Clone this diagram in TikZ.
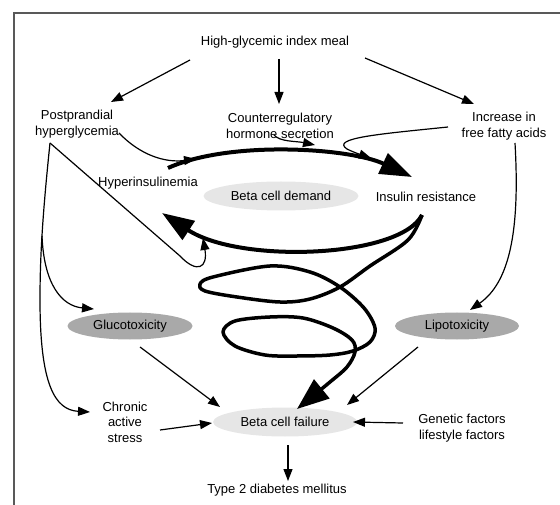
\documentclass[tikz,border=0pt]{standalone}
\usepackage{fontspec}
\setmainfont{Liberation Sans}
\usetikzlibrary{arrows.meta, shapes.geometric, calc}

\definecolor{paleblob}{HTML}{E6E6E6}
\definecolor{darkblob}{HTML}{A9A9A9}

\begin{document}
\begin{tikzpicture}[
    x=1pt, y=-1pt,
    every node/.style={font=\fontsize{13}{15.5}\selectfont, align=center},
    blob/.style={ellipse, inner sep=0pt},
    thinarr/.style={-{Triangle[length=12pt,width=9pt]}, line width=1.2pt},
    bigarr/.style={-{Triangle[length=32pt,width=22pt]}, line width=4pt},
    frame/.style={line width=1.3pt, black!65}
  ]
  \useasboundingbox (0,0) rectangle (560,505);
  \draw[frame] (14,505) -- (14,13) -- (560,13);

  % Top row
  \node (meal) at (275,42) {High-glycemic index meal};
  \node (post) at (77,124) {Postprandial\\hyperglycemia};
  \node (counter) at (280,126) {Counterregulatory\\hormone secretion};
  \node (ffa) at (504,126) {Increase in\\free fatty acids};

  % Cycle
  \node (hyper) at (148,183) {Hyperinsulinemia};
  \node[blob, fill=paleblob, minimum width=155pt, minimum height=29pt] (demand) at (281,196) {Beta cell demand};
  \node (resist) at (426,197) {Insulin resistance};

  % Toxicity
  \node[blob, fill=darkblob, minimum width=125pt, minimum height=27pt] (gluco) at (130,326) {Glucotoxicity};
  \node[blob, fill=darkblob, minimum width=124pt, minimum height=27pt] (lipo) at (457,326) {Lipotoxicity};

  % Bottom
  \node[blob, fill=paleblob, minimum width=144pt, minimum height=29pt] (failure) at (285,422) {Beta cell failure};
  \node (stress) at (125,422) {Chronic\\active\\stress};
  \node (genes) at (462,428) {Genetic factors\\lifestyle factors};
  \node (diabetes) at (277,490) {Type 2 diabetes mellitus};

  \coordinate (apex) at ($(post)+(-27,19)$);
  \coordinate (fork) at (42,236);
  \coordinate (split) at ($(resist)+(-4,18)$);
  \coordinate (sink) at ($(failure)+(12,-13)$);
  \coordinate (in1) at (196,159);
  \coordinate (in2) at (315,145);
  \coordinate (in3) at (371,158);

  \draw[thinarr] ($(meal)+(-85,18)$) -- ($(post)+(34,-22)$);
  \draw[thinarr] ($(meal)+(4,17)$) -- ($(counter)+(-1,-22)$);
  \draw[thinarr] ($(meal)+(90,16)$) -- ($(ffa)+(-30,-22)$);

  % Demand cycle
  \draw[bigarr] ($(hyper)+(20,-15)$) .. controls (230,140) and (350,148) .. ($(resist)+(-14,-20)$);
  \draw[bigarr] (split) .. controls (400,258) and (240,264) .. ($(hyper)+(14,30)$);
  \draw[thinarr] ($(post)+(42,9)$) .. controls (140,155) and (165,163) .. (in1);
  \draw[thinarr] ($(counter)+(-6,9)$) .. controls (280,142) and (296,141) .. (in2);
  \draw[thinarr] ($(ffa)+(-56,1)$) .. controls (380,134) and (330,138) .. (347,149)
    .. controls (355,153) and (362,155) .. (in3);
  \draw[thinarr] (apex) -- (180,256) .. controls (197,274) and (208,268) .. ($(hyper)+(55,55)$);

  % Left side
  \draw[thinarr] (apex) .. controls (42,220) and (40,260) .. (40,300)
    .. controls (40,385) and (55,410) .. ($(stress)+(-35,-10)$);
  \draw[thinarr] (fork) .. controls (44,285) and (62,306) .. ($(gluco)+(-36,-17)$);
  \draw[thinarr] ($(ffa)+(11,17)$) .. controls (520,230) and (510,282) .. ($(lipo)+(13,-16)$);

  % Spiral down to failure
  \draw[-{Triangle[length=32pt,width=24pt]}, line width=3.5pt, line join=round]
    plot[smooth, tension=0.55] coordinates {
      (split) (408,240) (370,266) (340,287) (310,299) (280,302) (237,297)
      (205,291) (200,284) (213,277) (270,266) (310,272) (340,287) (364,308)
      (375,328) (370,342) (353,351) (330,355) (297,356) (265,355) (235,346)
      (223,332) (235,321) (270,317) (303,318) (333,328) (352,340) (355,352)
      (347,367) (330,382) (sink)};

  \draw[thinarr] ($(gluco)+(10,21)$) -- ($(failure)+(-65,-15)$);
  \draw[thinarr] ($(lipo)+(-39,21)$) -- ($(failure)+(62,-17)$);
  \draw[thinarr] ($(stress)+(35,8)$) -- ($(failure)+(-73,1)$);
  \draw[thinarr] ($(genes)+(-59,-5)$) -- ($(failure)+(68,0)$);
  \draw[thinarr] ($(failure)+(3,23)$) -- ($(diabetes)+(11,-9)$);
\end{tikzpicture}
\end{document}
